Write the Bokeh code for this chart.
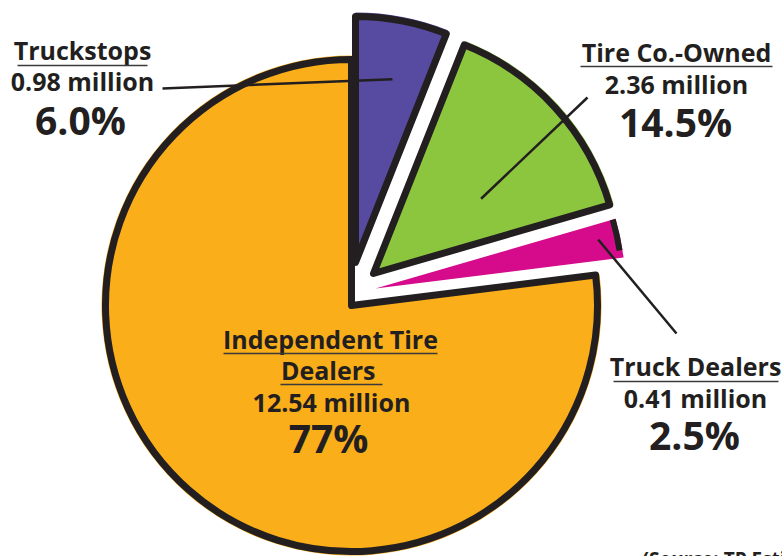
import math
from bokeh.plotting import figure
from bokeh.models import Range1d, ColumnDataSource
from bokeh.core.properties import value
from bokeh.embed import file_html
from bokeh.resources import INLINE

# ---- data ----
categories = ["Independent Tire Dealers", "Truck Dealers", "Tire Co.-Owned", "Truckstops"]
millions = [12.54, 0.41, 2.36, 0.98]
pct_labels = ["77%", "2.5%", "14.5%", "6.0%"]
million_labels = ["12.54 million", "0.41 million", "2.36 million", "0.98 million"]

# ---- style ----
colors = ["#F9AE1A", "#D60B8C", "#8CC63F", "#564BA0"]
offsets = [(0, 0), (24, 17), (22, 32), (4, 43)]  # explode offsets (px)
CX, CY, R = 351, 251, 250
TXT = "#231F20"
FONT = value("Open Sans")
W, H = 782, 556

p = figure(width=W, height=H, output_backend="svg", toolbar_location=None,
           x_range=Range1d(0, W), y_range=Range1d(0, H), min_border=0)
p.axis.visible = False
p.grid.visible = False
p.outline_line_color = None
p.background_fill_color = "white"
p.border_fill_color = "white"

total = sum(millions)
starts, ends = [], []
a = 90.0
for v in millions:
    starts.append(math.radians(a))
    a += v / total * 360.0
    ends.append(math.radians(a))

xs = [CX + o[0] for o in offsets]
ys = [CY + o[1] for o in offsets]
src = ColumnDataSource(dict(x=xs, y=ys, s=starts, e=ends, c=colors, cat=categories))

p.wedge(x="x", y="y", radius=R, start_angle="s", end_angle="e", fill_color="c",
        line_color=None, source=src)

# hand-drawn style black outline (all but the thin pink sliver)
idx = [0, 2, 3]
osrc = ColumnDataSource(dict(x=[xs[i] for i in idx], y=[ys[i] for i in idx],
                             s=[starts[i] for i in idx], e=[ends[i] for i in idx]))
p.wedge(x="x", y="y", radius=R - 4, start_angle="s", end_angle="e", fill_alpha=0,
        line_color="#231F20", line_width=7, line_join="round", source=osrc)
# black blob on pink's outer end
p.arc(x=xs[1], y=ys[1], radius=R - 3, start_angle=starts[1] + 0.03, end_angle=ends[1],
      line_color="#231F20", line_width=6)

# leader lines (inner end computed along the slice)
leader_angle = [None, 12.4, 34.8, 78.6]
leader_dist = [None, 228, 131, 187]
leader_outer = [None, (676, 223), (587, 459), (162, 468)]
x0, y0, x1, y1 = [], [], [], []
for i in (1, 2, 3):
    ang = math.radians(leader_angle[i])
    x0.append(xs[i] + leader_dist[i] * math.cos(ang))
    y0.append(ys[i] + leader_dist[i] * math.sin(ang))
    x1.append(leader_outer[i][0])
    y1.append(leader_outer[i][1])
p.segment(x0=x0, y0=y0, x1=x1, y1=y1, line_color="#231F20", line_width=2.5)

# labels: y given as desired baseline in picture pixels from top
K = 0.42
def label(x, base, t, size, style="bold", align="center"):
    y = H - base + K * size
    p.text(x=[x], y=[y], text=[t], text_font=FONT, text_font_style=style,
           text_font_size=f"{size}px", text_color=TXT, text_align=align,
           text_baseline="alphabetic")

def uline(xa, xb, base):
    y = H - base
    p.segment(x0=[xa], y0=[y], x1=[xb], y1=[y], line_color="#3a3a3a", line_width=1.6)

NAME, MIL, PCT = 25, 25, 39

# Truckstops
label(82, 60, categories[3], NAME); uline(17, 147, 65)
label(82, 91, million_labels[3], MIL)
label(80, 135, pct_labels[3], PCT)

# Tire Co.-Owned
label(676, 62, categories[2], NAME); uline(580, 772, 66)
label(676, 94, million_labels[2], MIL)
label(675, 137, pct_labels[2], PCT)

# Truck Dealers
label(695, 376, categories[1], NAME); uline(613, 778, 381)
label(695, 408, million_labels[1], MIL)
label(694, 450, pct_labels[1], PCT)

# Independent Tire Dealers
label(330, 349, "Independent Tire", NAME); uline(223, 437, 353)
label(331, 380, " Dealers", NAME); uline(280, 382, 384)
label(331, 412, million_labels[0], MIL)
label(328, 453, pct_labels[0], PCT)

# source (cut off at bottom, as in the original)
label(642, 566, "(Source: TP Estimates)", 19, style="bold", align="left")

open("out.html", "w").write(file_html(p, INLINE))
